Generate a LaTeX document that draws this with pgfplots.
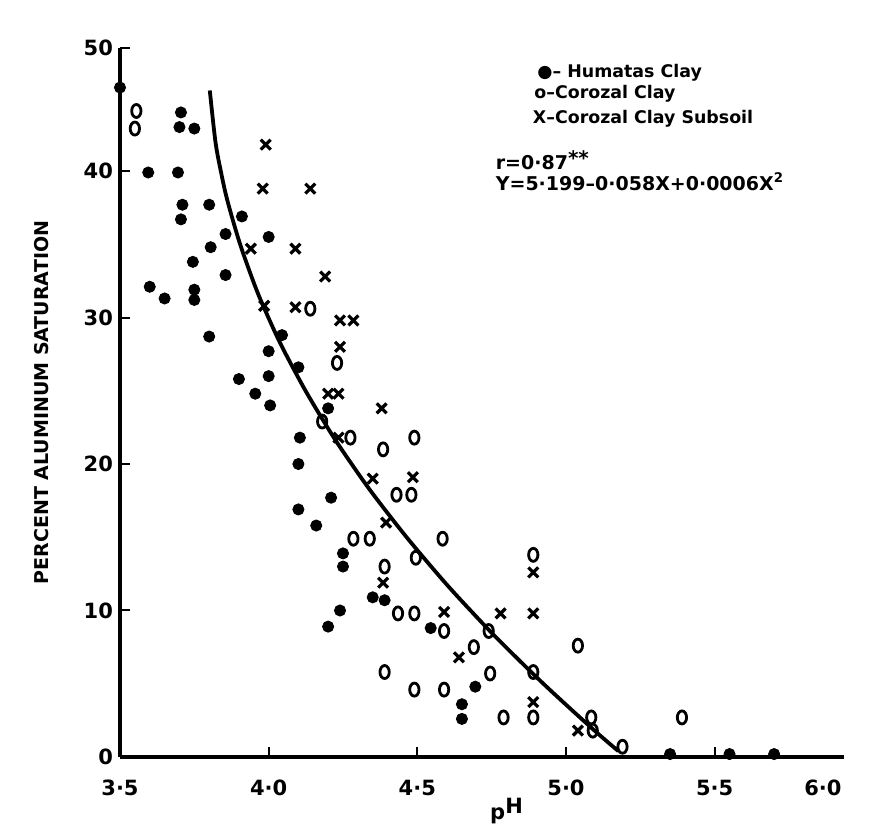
\documentclass[border=0pt]{standalone}
\usepackage{fontspec}
\setmainfont{DejaVu Sans}
\usepackage{pgfplots}
\pgfplotsset{compat=1.18}
\pgfplotstableread{
ph al
3.50 45.7
3.595 39.9
3.705 44.0
3.70 43.0
3.75 42.9
3.695 39.9
3.71 37.7
3.80 37.7
3.705 36.7
3.91 36.9
3.855 35.7
4.00 35.5
3.805 34.8
3.745 33.8
3.855 32.9
3.60 32.1
3.75 31.9
3.65 31.3
3.75 31.2
3.80 28.7
4.00 27.7
4.045 28.8
3.90 25.8
4.00 26.0
3.955 24.8
4.005 24.0
4.10 26.6
4.20 23.8
4.105 21.8
4.10 20.0
4.21 17.7
4.10 16.9
4.16 15.8
4.25 13.9
4.25 13.0
4.35 10.9
4.39 10.7
4.24 10.0
4.20 8.9
4.545 8.8
4.695 4.8
4.65 3.6
4.65 2.6
5.35 0.2
5.55 0.2
5.70 0.2
}\humatas
\pgfplotstableread{
ph al
3.555 44.1
3.55 42.9
4.14 30.6
4.23 26.9
4.18 22.9
4.275 21.8
4.49 21.8
4.385 21.0
4.43 17.9
4.48 17.9
4.285 14.9
4.34 14.9
4.585 14.9
4.495 13.6
4.39 13.0
4.89 13.8
4.435 9.8
4.49 9.8
4.59 8.6
4.69 7.5
4.74 8.6
4.745 5.7
4.89 5.8
4.39 5.8
4.49 4.6
4.59 4.6
4.79 2.7
4.89 2.7
5.04 7.6
5.085 2.7
5.09 1.8
5.19 0.7
5.39 2.7
}\corozal
\pgfplotstableread{
ph al
3.99 41.8
3.98 38.8
4.14 38.8
3.94 34.7
4.09 34.7
4.19 32.8
3.985 30.8
4.09 30.7
4.24 29.8
4.285 29.8
4.24 28.0
4.20 24.8
4.235 24.8
4.38 23.8
4.235 21.8
4.35 19.0
4.485 19.1
4.395 16.0
4.385 11.9
4.59 9.9
4.78 9.8
4.89 9.8
4.89 12.6
4.64 6.8
4.89 3.75
5.04 1.8
}\subsoil
\pgfplotstableread{
ph al
5.176 0.4
5.085 2
4.924 5
4.773 8
4.679 10
4.589 12
4.464 15
4.349 18
4.279 20
4.213 22
4.124 25
4.045 28
3.999 30
3.957 32
3.904 35
3.861 38
3.839 40
3.821 42
3.802 45.5
}\fit
\begin{document}
\begin{tikzpicture}[x=1pt,y=1pt]
\useasboundingbox (-60,-35.5) rectangle (380,378.5);
\begin{axis}[
  at={(0,0)}, anchor=south west,
  scale only axis, width=362pt, height=354.5pt,
  xmin=3.5, xmax=5.935, ymin=0, ymax=48.4,
  axis x line*=bottom, axis y line*=left,
  axis line style={line width=1.8pt, -},
  clip=false,
  tick align=inside, major tick length=5pt,
  tick style={line width=1pt, black},
  xtick={3.5,4,4.5,5,5.5},
  xticklabels={3·5,4·0,4·5,5·0,5·5},
  extra x ticks={5.864}, extra x tick labels={6·0},
  extra x tick style={major tick length=0pt},
  ytick={0,10,20,30,40,48.4},
  yticklabels={0,10,20,30,40,50},
  tick label style={font=\fontsize{10.5}{12}\selectfont\bfseries},
  xticklabel style={yshift=-8pt},
  xlabel={p\raisebox{0.55ex}{H}},
  xlabel style={at={(axis cs:4.8,-3.7)}, anchor=center, font=\fontsize{10.5}{12}\selectfont\bfseries},
  ylabel={PERCENT ALUMINUM SATURATION},
  ylabel style={at={(axis cs:3.2375,24.2)}, anchor=center, font=\fontsize{9.5}{11}\selectfont\bfseries},
]
\addplot[only marks, mark=*, mark size=2.8pt, black] table[x=ph,y=al]{\humatas};
\addplot[only marks, mark=o, mark size=3.1pt, black, mark options={line width=1.4pt, xscale=0.75, yscale=1.05}] table[x=ph,y=al]{\corozal};
\addplot[only marks, mark=x, mark size=3.5pt, black, mark options={line width=1.6pt}] table[x=ph,y=al]{\subsoil};
\addplot[black, line width=1.9pt, smooth] table[x=ph,y=al]{\fit};
\node[anchor=west, font=\fontsize{8.7}{10}\selectfont\bfseries] at (axis cs:4.88,46.7) {●– Humatas Clay};
\node[anchor=west, font=\fontsize{8.7}{10}\selectfont\bfseries] at (axis cs:4.87,45.3) {o–Corozal Clay};
\node[anchor=west, font=\fontsize{8.7}{10}\selectfont\bfseries] at (axis cs:4.865,43.6) {X–Corozal Clay Subsoil};
\node[anchor=base west, font=\fontsize{9.5}{11}\selectfont\bfseries, inner sep=1pt] at (axis cs:4.756,40.1) {r=0·87\raisebox{0.35ex}{\fontsize{10}{10}\selectfont **}};
\node[anchor=base west, font=\fontsize{9.5}{11}\selectfont\bfseries, inner sep=1pt] at (axis cs:4.756,38.7) {Y=5·199–0·058X+0·0006X\textsuperscript{2}};
\end{axis}
\end{tikzpicture}
\end{document}
